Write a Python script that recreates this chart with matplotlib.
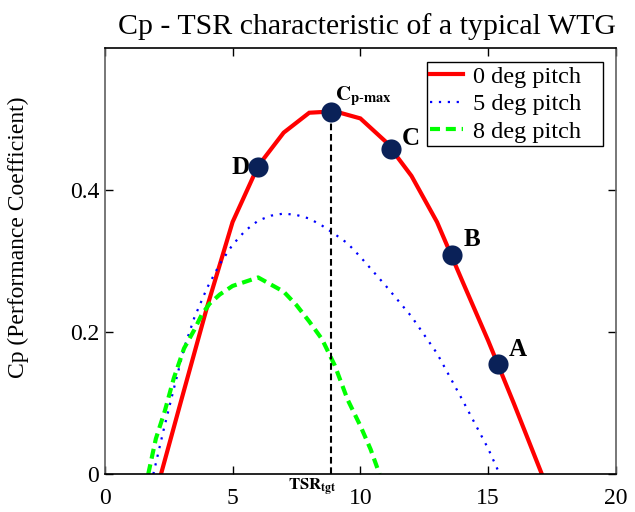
"""
Cp - TSR characteristic of a typical wind turbine generator (WTG).
Recreated in matplotlib, MATLAB-style axes.
"""

import matplotlib
matplotlib.use("Agg")
import matplotlib.pyplot as plt
from matplotlib.lines import Line2D

# ── Data ────────────────────────────────────────────────────────────────────
tsr_0deg = [2.2, 3, 4, 5, 6, 7, 8, 9, 10, 11, 12, 13, 14, 15, 16, 17.1]
cp_0deg = [0, 0.105, 0.235, 0.355, 0.434, 0.481, 0.509, 0.511, 0.501,
           0.468, 0.42, 0.355, 0.271, 0.188, 0.1, 0]

tsr_5deg = [1.9, 2.3, 2.7, 3.1, 3.5, 4, 4.5, 5, 5.5, 6, 6.5, 7, 7.5, 8,
            8.5, 9, 9.5, 10, 11, 12, 13, 14, 15, 15.45]
cp_5deg = [0, 0.062, 0.12, 0.177, 0.22, 0.262, 0.296, 0.323, 0.343, 0.357,
           0.364, 0.367, 0.365, 0.36, 0.35, 0.338, 0.325, 0.306, 0.265,
           0.222, 0.17, 0.104, 0.036, 0]

tsr_8deg = [1.7, 2, 2.35, 2.7, 3.1, 3.5, 3.8, 4.1, 4.5, 5, 5.5, 6, 6.5, 7,
            7.5, 8, 8.5, 9, 9.5, 10, 10.4, 10.75]
cp_8deg = [0, 0.05, 0.089, 0.135, 0.177, 0.203, 0.225, 0.24, 0.253, 0.265,
           0.271, 0.277, 0.267, 0.257, 0.238, 0.215, 0.19, 0.153, 0.105,
           0.068, 0.035, 0]

# operating points on the 0 deg curve
point_names = ["D", "Cp-max", "C", "B", "A"]
point_tsr = [6.0, 8.85, 11.2, 13.6, 15.4]
point_cp = [0.432, 0.51, 0.458, 0.309, 0.155]

tsr_tgt = 8.85

series_labels = ["0 deg pitch", "5 deg pitch", "8 deg pitch"]
x_ticks = [0, 5, 10, 15, 20]
y_ticks = [0, 0.2, 0.4]
y_tick_labels = ["0", "0.2", "0.4"]

# ── Colours ─────────────────────────────────────────────────────────────────
RED = "#ff0000"
BLUE = "#0000ff"
GREEN = "#00ff00"
NAVY = "#0a2158"
SPINE_GRAY = "#606060"

plt.rcParams.update({
    "font.family": ["Liberation Serif", "DejaVu Serif"],
    "mathtext.fontset": "stix",
})


def main():
    fig = plt.figure(figsize=(6.35, 5.12), dpi=100)
    ax = fig.add_axes([0.165, 0.074, 0.805, 0.832])

    ax.plot(tsr_0deg, cp_0deg, color=RED, linewidth=3, solid_joinstyle="miter")
    ax.plot(tsr_5deg, cp_5deg, color=BLUE, linewidth=1.6,
            linestyle=(0, (1, 3)))
    ax.plot(tsr_8deg, cp_8deg, color=GREEN, linewidth=3,
            linestyle=(0, (2.4, 1.4)))

    # vertical TSR target line
    ax.plot([tsr_tgt, tsr_tgt], [0, point_cp[1]], color="black",
            linewidth=1.5, linestyle=(0, (3.2, 1.8)), zorder=3)

    ax.plot(point_tsr, point_cp, "o", color=NAVY, markersize=14.5,
            markeredgewidth=0, zorder=5)

    # point labels
    bold = dict(fontsize=18, fontweight="bold", color="black")
    ax.text(5.32, 0.432, "D", ha="center", va="center", **bold)
    ax.text(11.98, 0.473, "C", ha="center", va="center", **bold)
    ax.text(14.35, 0.33, "B", ha="center", va="center", **bold)
    ax.text(16.14, 0.175, "A", ha="center", va="center", **bold)
    ax.text(9.0, 0.526, r"$\mathbf{C}_{\mathbf{p\text{-}max}}$",
            ha="left", va="baseline", fontsize=15)
    ax.text(8.1, -0.003, r"$\mathbf{TSR}_{\mathbf{tgt}}$",
            ha="center", va="top", fontsize=12)

    # ── Axes cosmetics ──
    ax.set_xlim(0, 20)
    ax.set_ylim(0, 0.6)
    ax.set_xticks(x_ticks)
    ax.set_xticklabels([str(t) for t in x_ticks])
    ax.set_yticks(y_ticks)
    ax.set_yticklabels(y_tick_labels)
    ax.tick_params(direction="in", length=6, width=1, labelsize=17,
                   top=True, right=True)
    ax.tick_params(axis="x", pad=10)
    ax.tick_params(axis="y", pad=4)
    for side in ("top", "bottom"):
        ax.spines[side].set_color("black")
    for side in ("left", "right"):
        ax.spines[side].set_color(SPINE_GRAY)
    for s in ax.spines.values():
        s.set_linewidth(1.2)

    ax.set_ylabel("Cp (Performance Coefficient)", fontsize=17)
    ax.yaxis.set_label_coords(-0.148, 0.556)
    ax.set_title("Cp - TSR characteristic of a typical WTG", fontsize=21.5,
                 pad=10, x=0.513)

    # ── Legend ──
    handles = [
        Line2D([0], [0], color=RED, linewidth=3),
        Line2D([0], [0], color=BLUE, linewidth=1.6, linestyle=(0, (1, 3))),
        Line2D([0], [0], color=GREEN, linewidth=3, linestyle=(0, (2.4, 1.4))),
    ]
    # MATLAB legends keep extra room on the right of the text
    padded = [s + "\u00a0\u00a0\u00a0" for s in series_labels]
    leg = ax.legend(handles, padded, loc="upper right",
                    bbox_to_anchor=(0.9746, 0.967), borderaxespad=0,
                    fontsize=17.5, fancybox=False, framealpha=1,
                    edgecolor="black", handlelength=1.35, handletextpad=0.4,
                    labelspacing=0.22, borderpad=0.15)
    leg.get_frame().set_linewidth(1.0)

    fig.savefig("out.png", dpi=100)
    plt.close(fig)


if __name__ == "__main__":
    main()
